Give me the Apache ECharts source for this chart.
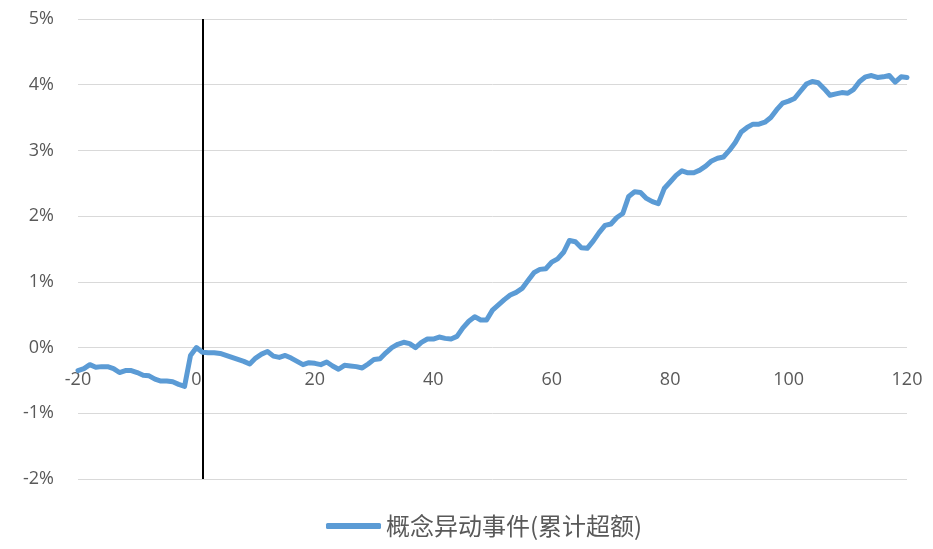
<!DOCTYPE html>
<html>
<head>
<meta charset="utf-8">
<script src="https://cdn.jsdelivr.net/npm/echarts@6/dist/echarts.min.js"></script>
<style>
  html, body { margin: 0; padding: 0; background: #fff; }
  #chart { width: 933px; height: 549px; }
</style>
</head>
<body>
<div id="chart"></div>
<script>
  // 事件日前后 -20 ~ 120 天
  var startDay = -20;
  var eventDay = 1;
  var seriesName = '概念异动事件(累计超额)';
  // 累计超额收益 (%)
  var cumExcess = [
    -0.35, -0.32, -0.26, -0.30, -0.29, -0.29, -0.32, -0.38, -0.35, -0.35,
    -0.38, -0.42, -0.43, -0.48, -0.51, -0.51, -0.52, -0.56, -0.59, -0.12,
    0.00, -0.07, -0.08, -0.08, -0.09, -0.12, -0.15, -0.18, -0.21, -0.25,
    -0.16, -0.10, -0.06, -0.13, -0.15, -0.12, -0.16, -0.21, -0.26, -0.23,
    -0.24, -0.26, -0.22, -0.28, -0.33, -0.27, -0.28, -0.29, -0.31, -0.25,
    -0.18, -0.17, -0.08, 0.00, 0.05, 0.08, 0.06, 0.00, 0.08, 0.13,
    0.13, 0.16, 0.14, 0.13, 0.17, 0.30, 0.40, 0.47, 0.42, 0.42,
    0.57, 0.65, 0.73, 0.80, 0.84, 0.90, 1.02, 1.14, 1.19, 1.20,
    1.30, 1.35, 1.45, 1.63, 1.61, 1.52, 1.51, 1.62, 1.75, 1.86,
    1.88, 1.98, 2.04, 2.30, 2.37, 2.36, 2.27, 2.22, 2.19, 2.42,
    2.52, 2.62, 2.69, 2.66, 2.66, 2.70, 2.76, 2.84, 2.88, 2.90,
    3.00, 3.12, 3.28, 3.35, 3.40, 3.40, 3.43, 3.50, 3.62, 3.72,
    3.75, 3.79, 3.90, 4.01, 4.05, 4.03, 3.94, 3.84, 3.86, 3.88,
    3.87, 3.93, 4.05, 4.12, 4.14, 4.11, 4.12, 4.14, 4.04, 4.12,
    4.11
  ];

  var myChart = echarts.init(document.getElementById('chart'));
  var lineData = cumExcess.map(function (v, i) { return [startDay + i, v]; });
  var labelFont = '"Open Sans", "Noto Sans", sans-serif';

  var option = {
    animation: false,
    grid: { left: 78, right: 26, top: 19, bottom: 70 },
    legend: {
      bottom: 6,
      left: 321,
      itemWidth: 55,
      itemHeight: 6,
      itemGap: 4,
      icon: 'roundRect',
      textStyle: { color: '#595959', fontSize: 24, fontFamily: '"Noto Sans CJK SC", sans-serif' },
      data: [seriesName]
    },
    xAxis: {
      type: 'value',
      min: -20,
      max: 120,
      interval: 20,
      offset: -132, // 横轴标签贴在 0% 线下方
      z: 1,
      axisLine: { show: false },
      axisTick: { show: false },
      splitLine: { show: false },
      axisLabel: { color: '#595959', fontSize: 18, fontFamily: labelFont, margin: 24 }
    },
    yAxis: {
      type: 'value',
      min: -2,
      max: 5,
      interval: 1,
      axisLine: { show: false },
      axisTick: { show: false },
      splitLine: { lineStyle: { color: '#d9d9d9', width: 1 } },
      axisLabel: { color: '#595959', fontSize: 18, fontFamily: labelFont, margin: 24, formatter: '{value}%' }
    },
    series: [
      {
        name: seriesName,
        type: 'line',
        z: 5,
        data: lineData,
        showSymbol: false,
        symbol: 'none',
        lineStyle: { color: '#5b9bd5', width: 5, cap: 'round', join: 'round' },
        itemStyle: { color: '#5b9bd5' },
        markLine: {
          silent: true,
          symbol: 'none',
          label: { show: false },
          lineStyle: { color: '#000', width: 2, type: 'solid' },
          data: [{ xAxis: eventDay }]
        }
      }
    ]
  };

  myChart.setOption(option);
</script>
</body>
</html>
